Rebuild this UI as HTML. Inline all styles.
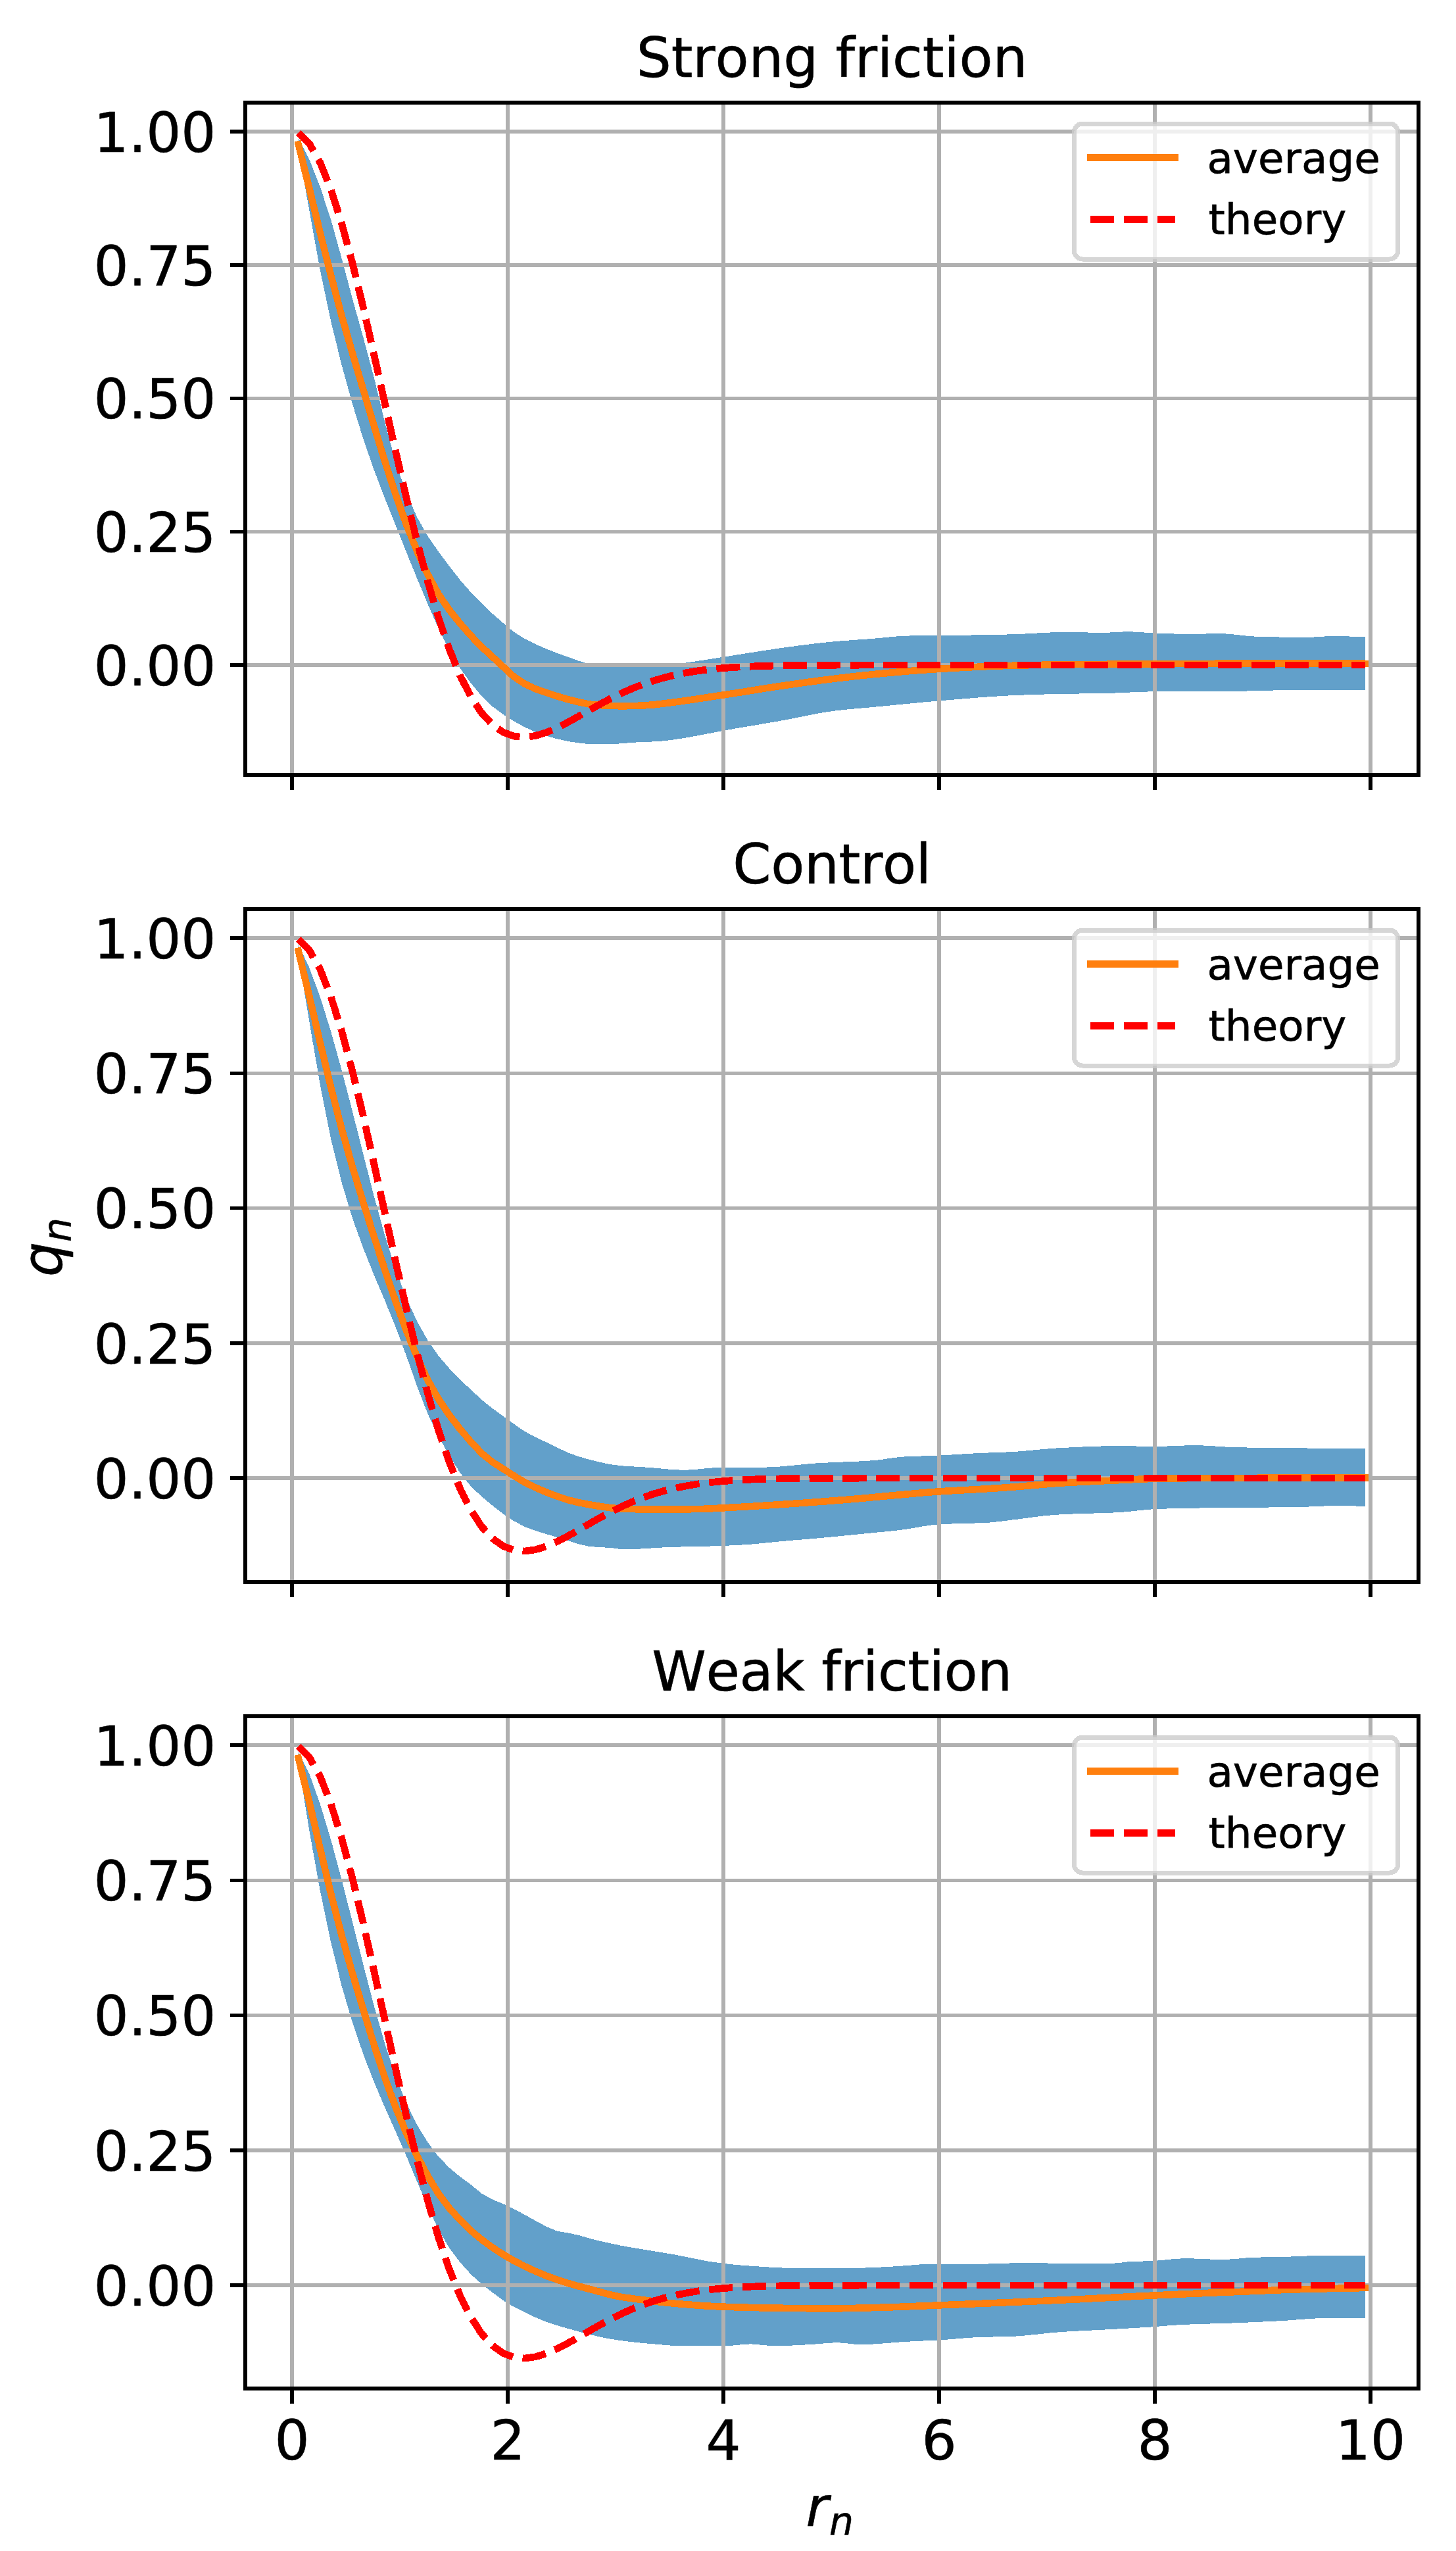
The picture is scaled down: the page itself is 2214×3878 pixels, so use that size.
<!DOCTYPE html><html><head><meta charset="utf-8"><title>Correlation plots</title>
<style>html,body{margin:0;padding:0;background:#fff}svg{display:block}text{font-family:"DejaVu Sans","Liberation Sans",sans-serif;fill:#000;stroke:#000;stroke-width:0.6px}</style></head><body>
<svg width="2214" height="3878" viewBox="0 0 2214 3878" shape-rendering="crispEdges">
<rect width="2214" height="3878" fill="#fff"/>
<g>
<clipPath id="c0"><rect x="373" y="156" width="1784" height="1022"/></clipPath>
<g clip-path="url(#c0)">
<polygon fill="#1f77b4" fill-opacity="0.7" points="453.8,209.7 470.2,242 486.6,283.6 503,333.3 519.4,392.2 535.8,453.8 552.2,512.1 568.5,573.1 584.9,640.5 601.3,701.6 617.7,749.3 634.1,786.1 650.5,815.1 666.8,838.6 683.2,860.7 699.6,881.7 716,900.4 732.4,917.4 748.8,932.9 765.2,947.2 781.5,960.8 797.9,971.1 814.3,979.3 830.7,986.4 847.1,992.9 863.5,998.6 879.9,1004.7 896.2,1009.5 912.6,1011.9 929,1013.3 945.4,1013.4 961.8,1013.4 978.2,1013.4 994.5,1013.1 1010.9,1011.6 1027.3,1009.5 1043.7,1007.4 1060.1,1005 1076.5,1002.5 1092.9,999.9 1109.2,997.3 1125.6,994.7 1142,992.1 1158.4,989.5 1174.8,987 1191.2,984.6 1207.6,982.4 1223.9,980.2 1240.3,978.2 1256.7,976.4 1273.1,974.8 1289.5,973.6 1305.9,972.4 1322.2,971.3 1338.6,969.9 1355,968.2 1371.4,966.8 1387.8,966.4 1404.2,966.3 1420.6,966.2 1436.9,966.1 1453.3,965.9 1469.7,965.6 1486.1,965.4 1502.5,965.1 1518.9,964.8 1535.3,964.4 1551.6,963.9 1568,963 1584.4,962.1 1600.8,961.3 1617.2,960.8 1633.6,960.8 1650,961.4 1666.3,961.9 1682.7,961.8 1699.1,960.8 1715.5,960.2 1731.9,960.9 1748.3,962.1 1764.6,962.8 1781,963.4 1797.4,963.8 1813.8,963.9 1830.2,963.6 1846.6,963.2 1863,963.4 1879.3,964.8 1895.7,966.7 1912.1,967.9 1928.5,968.3 1944.9,968.5 1961.3,968.7 1977.7,968.8 1994,968.8 2010.4,967.6 2026.8,967.2 2043.2,967.3 2059.6,967.7 2076,968.4 2076,1049.1 2059.6,1048.9 2043.2,1048.8 2026.8,1048.7 2010.4,1048.7 1994,1048.6 1977.7,1048.6 1961.3,1048.8 1944.9,1049.2 1928.5,1049.8 1912.1,1050.3 1895.7,1050.5 1879.3,1050.6 1863,1050.7 1846.6,1050.8 1830.2,1050.9 1813.8,1050.9 1797.4,1051 1781,1051.1 1764.6,1051.2 1748.3,1051.4 1731.9,1052 1715.5,1052.6 1699.1,1053.4 1682.7,1053.9 1666.3,1054.2 1650,1054.4 1633.6,1054.6 1617.2,1054.8 1600.8,1055.2 1584.4,1055.6 1568,1056.1 1551.6,1056.7 1535.3,1057.4 1518.9,1058.3 1502.5,1059.4 1486.1,1060.6 1469.7,1061.9 1453.3,1063.3 1436.9,1064.7 1420.6,1066.1 1404.2,1067.5 1387.8,1069.1 1371.4,1070.7 1355,1072.3 1338.6,1073.9 1322.2,1075.5 1305.9,1076.9 1289.5,1078.4 1273.1,1080.1 1256.7,1082.3 1240.3,1085.2 1223.9,1088.5 1207.6,1091.9 1191.2,1095 1174.8,1097.9 1158.4,1100.7 1142,1103.5 1125.6,1106.2 1109.2,1109.1 1092.9,1112.1 1076.5,1115.3 1060.1,1118.5 1043.7,1121.4 1027.3,1124 1010.9,1126.2 994.5,1127.4 978.2,1127.9 961.8,1128.8 945.4,1130.3 929,1131 912.6,1131.4 896.2,1131.2 879.9,1129.4 863.5,1126.9 847.1,1123.3 830.7,1118.7 814.3,1112.9 797.9,1105.4 781.5,1096.4 765.2,1086.1 748.8,1074 732.4,1058.3 716,1038.3 699.6,1015.8 683.2,988.5 666.8,955.4 650.5,918.3 634.1,879.2 617.7,838.7 601.3,797.9 584.9,756.8 568.5,713.7 552.2,666.5 535.8,613.6 519.4,554.4 503,487.6 486.6,409.7 470.2,319.1 453.8,227.6"/>
<rect x="441.25" y="156" width="5.5" height="1022" fill="#b0b0b0"/>
<rect x="769.25" y="156" width="5.5" height="1022" fill="#b0b0b0"/>
<rect x="1097.25" y="156" width="5.5" height="1022" fill="#b0b0b0"/>
<rect x="1425.25" y="156" width="5.5" height="1022" fill="#b0b0b0"/>
<rect x="1753.25" y="156" width="5.5" height="1022" fill="#b0b0b0"/>
<rect x="2081.25" y="156" width="5.5" height="1022" fill="#b0b0b0"/>
<rect x="373" y="1008.25" width="1784" height="5.5" fill="#b0b0b0"/>
<rect x="373" y="805.50" width="1784" height="5.5" fill="#b0b0b0"/>
<rect x="373" y="602.75" width="1784" height="5.5" fill="#b0b0b0"/>
<rect x="373" y="400.00" width="1784" height="5.5" fill="#b0b0b0"/>
<rect x="373" y="197.25" width="1784" height="5.5" fill="#b0b0b0"/>
<polyline fill="none" stroke="#ff7f0e" stroke-width="10.6" stroke-linecap="square" stroke-linejoin="round" points="453.8,219.5 470.2,285.7 486.6,353 503,418 519.4,479.4 535.8,536.7 552.2,591.8 568.5,646.6 584.9,700.3 601.3,750.8 617.7,796.7 634.1,837.6 650.5,873.5 666.8,903.4 683.2,927.3 699.6,947.7 716,966.4 732.4,983.3 748.8,998.5 765.2,1013.7 781.5,1028.8 797.9,1039.6 814.3,1047.3 830.7,1053 847.1,1058.3 863.5,1063.2 879.9,1067.2 896.2,1070.6 912.6,1072.1 929,1073 945.4,1073.3 961.8,1073.1 978.2,1072.5 994.5,1071.3 1010.9,1069.3 1027.3,1067.2 1043.7,1064.9 1060.1,1062.5 1076.5,1060 1092.9,1057.5 1109.2,1055 1125.6,1052.5 1142,1049.9 1158.4,1047.2 1174.8,1044.7 1191.2,1042.2 1207.6,1039.9 1223.9,1037.6 1240.3,1035.4 1256.7,1033.2 1273.1,1031.2 1289.5,1029.3 1305.9,1027.4 1322.2,1025.7 1338.6,1024.1 1355,1022.6 1371.4,1021.1 1387.8,1019.7 1404.2,1018.5 1420.6,1017.4 1436.9,1016.4 1453.3,1015.5 1469.7,1014.6 1486.1,1013.8 1502.5,1013.1 1518.9,1012.4 1535.3,1011.9 1551.6,1011.5 1568,1011.1 1584.4,1010.8 1600.8,1010.5 1617.2,1010.3 1633.6,1010.1 1650,1010 1666.3,1009.9 1682.7,1009.8 1699.1,1009.7 1715.5,1009.6 1731.9,1009.5 1748.3,1009.4 1764.6,1009.3 1781,1009.2 1797.4,1009.1 1813.8,1009 1830.2,1008.9 1846.6,1008.8 1863,1008.7 1879.3,1008.6 1895.7,1008.6 1912.1,1008.6 1928.5,1008.6 1944.9,1008.6 1961.3,1008.6 1977.7,1008.6 1994,1008.6 2010.4,1008.6 2026.8,1008.6 2043.2,1008.7 2059.6,1008.7 2076,1008.8"/>
<polyline fill="none" stroke="#ff0000" stroke-width="10.8" stroke-dasharray="36.2 14.66" stroke-linejoin="round" points="453.8,201.8 470.2,217.9 486.6,246.6 503,287.5 519.4,339.1 535.8,399.6 552.2,466.6 568.5,538.1 584.9,611.6 601.3,684.8 617.7,755.9 634.1,822.9 650.5,884.4 666.8,939.3 683.2,986.9 699.6,1026.9 716,1059.1 732.4,1083.8 748.8,1101.6 765.2,1113.2 781.5,1119.2 797.9,1120.7 814.3,1118.5 830.7,1113.5 847.1,1106.4 863.5,1098 879.9,1088.9 896.2,1079.6 912.6,1070.4 929,1061.7 945.4,1053.7 961.8,1046.5 978.2,1040.1 994.5,1034.6 1010.9,1029.9 1027.3,1025.9 1043.7,1022.7 1060.1,1020 1076.5,1017.9 1092.9,1016.2 1109.2,1014.9 1125.6,1013.9 1142,1013.1 1158.4,1012.5 1174.8,1012.1 1191.2,1011.8 1207.6,1011.6 1223.9,1011.4 1240.3,1011.3 1256.7,1011.2 1273.1,1011.1 1289.5,1011.1 1305.9,1011.1 1322.2,1011 1338.6,1011 1355,1011 1371.4,1011 1387.8,1011 1404.2,1011 1420.6,1011 1436.9,1011 1453.3,1011 1469.7,1011 1486.1,1011 1502.5,1011 1518.9,1011 1535.3,1011 1551.6,1011 1568,1011 1584.4,1011 1600.8,1011 1617.2,1011 1633.6,1011 1650,1011 1666.3,1011 1682.7,1011 1699.1,1011 1715.5,1011 1731.9,1011 1748.3,1011 1764.6,1011 1781,1011 1797.4,1011 1813.8,1011 1830.2,1011 1846.6,1011 1863,1011 1879.3,1011 1895.7,1011 1912.1,1011 1928.5,1011 1944.9,1011 1961.3,1011 1977.7,1011 1994,1011 2010.4,1011 2026.8,1011 2043.2,1011 2059.6,1011 2076,1011"/>
</g>
<rect x="441.25" y="1178" width="5.5" height="23" fill="#000"/>
<rect x="769.25" y="1178" width="5.5" height="23" fill="#000"/>
<rect x="1097.25" y="1178" width="5.5" height="23" fill="#000"/>
<rect x="1425.25" y="1178" width="5.5" height="23" fill="#000"/>
<rect x="1753.25" y="1178" width="5.5" height="23" fill="#000"/>
<rect x="2081.25" y="1178" width="5.5" height="23" fill="#000"/>
<rect x="350" y="1008.25" width="23" height="5.5" fill="#000"/>
<text x="328.5" y="1041.9" font-size="83.5" text-anchor="end">0.00</text>
<rect x="350" y="805.50" width="23" height="5.5" fill="#000"/>
<text x="328.5" y="839.1" font-size="83.5" text-anchor="end">0.25</text>
<rect x="350" y="602.75" width="23" height="5.5" fill="#000"/>
<text x="328.5" y="636.4" font-size="83.5" text-anchor="end">0.50</text>
<rect x="350" y="400.00" width="23" height="5.5" fill="#000"/>
<text x="328.5" y="433.6" font-size="83.5" text-anchor="end">0.75</text>
<rect x="350" y="197.25" width="23" height="5.5" fill="#000"/>
<text x="328.5" y="230.9" font-size="83.5" text-anchor="end">1.00</text>
<rect x="373" y="156" width="1784" height="1022" fill="none" stroke="#000" stroke-width="6"/>
<text x="1265.0" y="117.3" font-size="83.5" text-anchor="middle" style="font-kerning:none;letter-spacing:-0.13px">Strong friction</text>
<rect x="1633.3" y="188.0" width="492.5" height="206" rx="12.9" ry="12.9" fill="#fff" fill-opacity="0.8" stroke="#ccc" stroke-opacity="0.8" stroke-width="7"/>
<line x1="1658" x2="1787" y1="239.5" y2="239.5" stroke="#ff7f0e" stroke-width="10.8" stroke-linecap="square"/>
<line x1="1658" x2="1787" y1="333.5" y2="333.5" stroke="#ff0000" stroke-width="10.6" stroke-dasharray="36.2 14.9"/>
<text x="1835.4" y="263.0" font-size="64.4">average</text>
<text x="1837.6" y="356.3" font-size="64.4">theory</text>
</g>
<g>
<clipPath id="c1"><rect x="373" y="1382" width="1784" height="1023"/></clipPath>
<g clip-path="url(#c1)">
<polygon fill="#1f77b4" fill-opacity="0.7" points="453.8,1435.9 470.2,1470.8 486.6,1515 503,1567.4 519.4,1626.1 535.8,1688.9 552.2,1753.7 568.5,1817.6 584.9,1877.1 601.3,1929.2 617.7,1972.7 634.1,2008.5 650.5,2037.7 666.8,2061 683.2,2080.2 699.6,2097.3 716,2112.6 732.4,2127.8 748.8,2141.1 765.2,2152.9 781.5,2164.8 797.9,2176.1 814.3,2184.8 830.7,2192.5 847.1,2200.6 863.5,2208.2 879.9,2214.1 896.2,2218.9 912.6,2222.9 929,2226.3 945.4,2228.3 961.8,2229.4 978.2,2230.3 994.5,2231.5 1010.9,2233.1 1027.3,2234.4 1043.7,2234.7 1060.1,2233.6 1076.5,2232 1092.9,2230.8 1109.2,2230.7 1125.6,2230.7 1142,2230.7 1158.4,2230.7 1174.8,2230.3 1191.2,2229.1 1207.6,2227.5 1223.9,2225.9 1240.3,2224.5 1256.7,2223.6 1273.1,2222.9 1289.5,2222.2 1305.9,2221.5 1322.2,2220.6 1338.6,2219.2 1355,2216.6 1371.4,2214.7 1387.8,2213.9 1404.2,2213.4 1420.6,2212.8 1436.9,2212.1 1453.3,2211.1 1469.7,2210.1 1486.1,2209.2 1502.5,2208.5 1518.9,2207.9 1535.3,2207.3 1551.6,2206.3 1568,2204.8 1584.4,2203.2 1600.8,2201.8 1617.2,2200.9 1633.6,2200.1 1650,2199.3 1666.3,2198.7 1682.7,2198.3 1699.1,2198.1 1715.5,2198.2 1731.9,2198.6 1748.3,2198.9 1764.6,2198.9 1781,2198.3 1797.4,2197.6 1813.8,2197.2 1830.2,2197.5 1846.6,2198.4 1863,2199.5 1879.3,2200.2 1895.7,2200.5 1912.1,2200.6 1928.5,2200.8 1944.9,2200.9 1961.3,2201 1977.7,2201.2 1994,2201.7 2010.4,2202 2026.8,2202.1 2043.2,2202.1 2059.6,2201.9 2076,2201.7 2076,2290.5 2059.6,2289.3 2043.2,2288.7 2026.8,2288.9 2010.4,2289.6 1994,2290.4 1977.7,2290.9 1961.3,2291.2 1944.9,2291.4 1928.5,2291.5 1912.1,2291.7 1895.7,2291.8 1879.3,2291.9 1863,2292 1846.6,2292.2 1830.2,2292.4 1813.8,2292.7 1797.4,2293 1781,2293.3 1764.6,2293.8 1748.3,2294.6 1731.9,2296.2 1715.5,2298 1699.1,2299.3 1682.7,2299.9 1666.3,2300.4 1650,2300.9 1633.6,2301.4 1617.2,2302 1600.8,2303.1 1584.4,2304.7 1568,2306.8 1551.6,2309 1535.3,2311 1518.9,2313.2 1502.5,2314.7 1486.1,2315.4 1469.7,2315.8 1453.3,2316.3 1436.9,2316.8 1420.6,2317.9 1404.2,2320.2 1387.8,2323.1 1371.4,2325.6 1355,2327.5 1338.6,2329.1 1322.2,2330.7 1305.9,2332.3 1289.5,2334 1273.1,2335.6 1256.7,2337.2 1240.3,2338.7 1223.9,2340.1 1207.6,2341.4 1191.2,2342.8 1174.8,2344.4 1158.4,2346.1 1142,2347.6 1125.6,2348.7 1109.2,2349.5 1092.9,2350.1 1076.5,2350.6 1060.1,2350.9 1043.7,2351.3 1027.3,2351.7 1010.9,2352.3 994.5,2353.2 978.2,2354.3 961.8,2355.1 945.4,2355.2 929,2353 912.6,2352.1 896.2,2350.9 879.9,2347.3 863.5,2341.9 847.1,2337.1 830.7,2332 814.3,2327 797.9,2321 781.5,2312.2 765.2,2301.4 748.8,2288.7 732.4,2275 716,2259.6 699.6,2239 683.2,2212.9 666.8,2183.2 650.5,2149.4 634.1,2107.2 617.7,2060.6 601.3,2016.3 584.9,1976.4 568.5,1937.8 552.2,1897.2 535.8,1851.4 519.4,1797.1 503,1730.5 486.6,1647.9 470.2,1552.6 453.8,1453.9"/>
<rect x="441.25" y="1382" width="5.5" height="1023" fill="#b0b0b0"/>
<rect x="769.25" y="1382" width="5.5" height="1023" fill="#b0b0b0"/>
<rect x="1097.25" y="1382" width="5.5" height="1023" fill="#b0b0b0"/>
<rect x="1425.25" y="1382" width="5.5" height="1023" fill="#b0b0b0"/>
<rect x="1753.25" y="1382" width="5.5" height="1023" fill="#b0b0b0"/>
<rect x="2081.25" y="1382" width="5.5" height="1023" fill="#b0b0b0"/>
<rect x="373" y="2244.25" width="1784" height="5.5" fill="#b0b0b0"/>
<rect x="373" y="2039.00" width="1784" height="5.5" fill="#b0b0b0"/>
<rect x="373" y="1833.75" width="1784" height="5.5" fill="#b0b0b0"/>
<rect x="373" y="1628.50" width="1784" height="5.5" fill="#b0b0b0"/>
<rect x="373" y="1423.25" width="1784" height="5.5" fill="#b0b0b0"/>
<polyline fill="none" stroke="#ff7f0e" stroke-width="10.6" stroke-linecap="square" stroke-linejoin="round" points="453.8,1445.7 470.2,1513.9 486.6,1584.1 503,1652.2 519.4,1715.6 535.8,1773.4 552.2,1827.4 568.5,1879.3 584.9,1929.5 601.3,1977.5 617.7,2022.2 634.1,2062.6 650.5,2098 666.8,2127 683.2,2151.1 699.6,2172.5 716,2191.8 732.4,2209.2 748.8,2222.6 765.2,2233 781.5,2243.5 797.9,2253.4 814.3,2261.4 830.7,2268.4 847.1,2274.7 863.5,2280.1 879.9,2284.2 896.2,2287.3 912.6,2290 929,2292.3 945.4,2293.5 961.8,2294.1 978.2,2294.5 994.5,2294.6 1010.9,2294.6 1027.3,2294.5 1043.7,2294.3 1060.1,2294.1 1076.5,2293.6 1092.9,2292.7 1109.2,2291.8 1125.6,2290.9 1142,2290 1158.4,2288.9 1174.8,2287.9 1191.2,2286.8 1207.6,2285.7 1223.9,2284.6 1240.3,2283.4 1256.7,2282.2 1273.1,2280.9 1289.5,2279.6 1305.9,2278.2 1322.2,2276.7 1338.6,2275.1 1355,2273.6 1371.4,2272.1 1387.8,2270.7 1404.2,2269.2 1420.6,2267.9 1436.9,2266.8 1453.3,2265.9 1469.7,2265 1486.1,2264.1 1502.5,2263.1 1518.9,2262.1 1535.3,2260.9 1551.6,2259.7 1568,2258.2 1584.4,2256.8 1600.8,2255.4 1617.2,2254.3 1633.6,2253.4 1650,2252.6 1666.3,2251.8 1682.7,2251 1699.1,2250.3 1715.5,2249.5 1731.9,2248.7 1748.3,2248.1 1764.6,2247.8 1781,2247.5 1797.4,2247.3 1813.8,2247.1 1830.2,2247 1846.6,2247 1863,2246.9 1879.3,2246.9 1895.7,2246.8 1912.1,2246.8 1928.5,2246.7 1944.9,2246.7 1961.3,2246.7 1977.7,2246.7 1994,2246.6 2010.4,2246.6 2026.8,2246.6 2043.2,2246.6 2059.6,2246.6 2076,2246.6"/>
<polyline fill="none" stroke="#ff0000" stroke-width="10.8" stroke-dasharray="36.2 14.66" stroke-linejoin="round" points="453.8,1427.8 470.2,1444.1 486.6,1473.1 503,1514.6 519.4,1566.8 535.8,1628 552.2,1695.9 568.5,1768.2 584.9,1842.6 601.3,1916.8 617.7,1988.7 634.1,2056.6 650.5,2118.8 666.8,2174.4 683.2,2222.6 699.6,2263.1 716,2295.7 732.4,2320.7 748.8,2338.7 765.2,2350.4 781.5,2356.6 797.9,2358.1 814.3,2355.8 830.7,2350.7 847.1,2343.6 863.5,2335.1 879.9,2325.9 896.2,2316.4 912.6,2307.1 929,2298.3 945.4,2290.2 961.8,2282.9 978.2,2276.4 994.5,2270.8 1010.9,2266.1 1027.3,2262.1 1043.7,2258.8 1060.1,2256.1 1076.5,2254 1092.9,2252.3 1109.2,2250.9 1125.6,2249.9 1142,2249.1 1158.4,2248.6 1174.8,2248.1 1191.2,2247.8 1207.6,2247.6 1223.9,2247.4 1240.3,2247.3 1256.7,2247.2 1273.1,2247.1 1289.5,2247.1 1305.9,2247.1 1322.2,2247 1338.6,2247 1355,2247 1371.4,2247 1387.8,2247 1404.2,2247 1420.6,2247 1436.9,2247 1453.3,2247 1469.7,2247 1486.1,2247 1502.5,2247 1518.9,2247 1535.3,2247 1551.6,2247 1568,2247 1584.4,2247 1600.8,2247 1617.2,2247 1633.6,2247 1650,2247 1666.3,2247 1682.7,2247 1699.1,2247 1715.5,2247 1731.9,2247 1748.3,2247 1764.6,2247 1781,2247 1797.4,2247 1813.8,2247 1830.2,2247 1846.6,2247 1863,2247 1879.3,2247 1895.7,2247 1912.1,2247 1928.5,2247 1944.9,2247 1961.3,2247 1977.7,2247 1994,2247 2010.4,2247 2026.8,2247 2043.2,2247 2059.6,2247 2076,2247"/>
</g>
<rect x="441.25" y="2405" width="5.5" height="23" fill="#000"/>
<rect x="769.25" y="2405" width="5.5" height="23" fill="#000"/>
<rect x="1097.25" y="2405" width="5.5" height="23" fill="#000"/>
<rect x="1425.25" y="2405" width="5.5" height="23" fill="#000"/>
<rect x="1753.25" y="2405" width="5.5" height="23" fill="#000"/>
<rect x="2081.25" y="2405" width="5.5" height="23" fill="#000"/>
<rect x="350" y="2244.25" width="23" height="5.5" fill="#000"/>
<text x="328.5" y="2277.9" font-size="83.5" text-anchor="end">0.00</text>
<rect x="350" y="2039.00" width="23" height="5.5" fill="#000"/>
<text x="328.5" y="2072.7" font-size="83.5" text-anchor="end">0.25</text>
<rect x="350" y="1833.75" width="23" height="5.5" fill="#000"/>
<text x="328.5" y="1867.4" font-size="83.5" text-anchor="end">0.50</text>
<rect x="350" y="1628.50" width="23" height="5.5" fill="#000"/>
<text x="328.5" y="1662.2" font-size="83.5" text-anchor="end">0.75</text>
<rect x="350" y="1423.25" width="23" height="5.5" fill="#000"/>
<text x="328.5" y="1456.9" font-size="83.5" text-anchor="end">1.00</text>
<rect x="373" y="1382" width="1784" height="1023" fill="none" stroke="#000" stroke-width="6"/>
<text x="1265.0" y="1343.3" font-size="83.5" text-anchor="middle" style="font-kerning:none;letter-spacing:-0.30px">Control</text>
<rect x="1633.3" y="1414.0" width="492.5" height="206" rx="12.9" ry="12.9" fill="#fff" fill-opacity="0.8" stroke="#ccc" stroke-opacity="0.8" stroke-width="7"/>
<line x1="1658" x2="1787" y1="1465.5" y2="1465.5" stroke="#ff7f0e" stroke-width="10.8" stroke-linecap="square"/>
<line x1="1658" x2="1787" y1="1559.5" y2="1559.5" stroke="#ff0000" stroke-width="10.6" stroke-dasharray="36.2 14.9"/>
<text x="1835.4" y="1489.0" font-size="64.4">average</text>
<text x="1837.6" y="1582.3" font-size="64.4">theory</text>
</g>
<g>
<clipPath id="c2"><rect x="373" y="2609" width="1784" height="1022"/></clipPath>
<g clip-path="url(#c2)">
<polygon fill="#1f77b4" fill-opacity="0.7" points="453.8,2662.9 470.2,2696.3 486.6,2741.7 503,2796.2 519.4,2857 535.8,2921.1 552.2,2985.9 568.5,3048.4 584.9,3105.8 601.3,3155.4 617.7,3196.6 634.1,3230.2 650.5,3256.8 666.8,3278.6 683.2,3295.3 699.6,3309 716,3321 732.4,3334.5 748.8,3343.6 765.2,3350.4 781.5,3358 797.9,3366.9 814.3,3376 830.7,3384.8 847.1,3391.7 863.5,3394.3 879.9,3398 896.2,3402.7 912.6,3406.8 929,3410.5 945.4,3413.9 961.8,3416.8 978.2,3419.6 994.5,3422.3 1010.9,3425 1027.3,3427.8 1043.7,3431 1060.1,3434.4 1076.5,3437.5 1092.9,3440 1109.2,3441.9 1125.6,3443.5 1142,3444.7 1158.4,3445.8 1174.8,3446.9 1191.2,3447.6 1207.6,3447.8 1223.9,3447.9 1240.3,3448 1256.7,3448.1 1273.1,3448.1 1289.5,3448.1 1305.9,3447.8 1322.2,3447.3 1338.6,3446.6 1355,3445.7 1371.4,3444.6 1387.8,3443.4 1404.2,3442 1420.6,3441.8 1436.9,3442 1453.3,3442.2 1469.7,3442.2 1486.1,3442 1502.5,3441.5 1518.9,3441 1535.3,3440.5 1551.6,3440.2 1568,3440 1584.4,3440.3 1600.8,3440.7 1617.2,3441.1 1633.6,3441.3 1650,3441.3 1666.3,3441.2 1682.7,3441.1 1699.1,3440.3 1715.5,3438.3 1731.9,3437.7 1748.3,3437.2 1764.6,3436.2 1781,3434.5 1797.4,3433.3 1813.8,3433.4 1830.2,3434.1 1846.6,3434.8 1863,3435 1879.3,3433.9 1895.7,3432.4 1912.1,3431.6 1928.5,3431.3 1944.9,3431 1961.3,3430.6 1977.7,3429.9 1994,3429.2 2010.4,3428.7 2026.8,3428.7 2043.2,3428.7 2059.6,3428.7 2076,3428.7 2076,3523.8 2059.6,3523.8 2043.2,3523.8 2026.8,3523.8 2010.4,3524 1994,3524.8 1977.7,3526 1961.3,3527.3 1944.9,3528.3 1928.5,3529.1 1912.1,3529.9 1895.7,3530.6 1879.3,3531.3 1863,3531.8 1846.6,3532.3 1830.2,3532.8 1813.8,3533.3 1797.4,3534 1781,3535 1764.6,3536.4 1748.3,3537.6 1731.9,3538.6 1715.5,3539.5 1699.1,3540.5 1682.7,3541.4 1666.3,3542.2 1650,3543 1633.6,3543.8 1617.2,3544.8 1600.8,3546 1584.4,3547.8 1568,3549.5 1551.6,3551.1 1535.3,3552.1 1518.9,3552.4 1502.5,3552.6 1486.1,3553 1469.7,3554.1 1453.3,3555.5 1436.9,3556.8 1420.6,3557.8 1404.2,3558.5 1387.8,3559.3 1371.4,3560.2 1355,3561.5 1338.6,3562.8 1322.2,3563.9 1305.9,3564.3 1289.5,3562.6 1273.1,3561 1256.7,3562.1 1240.3,3563.5 1223.9,3564.5 1207.6,3565.4 1191.2,3566.2 1174.8,3566.4 1158.4,3564.8 1142,3563.3 1125.6,3564.4 1109.2,3566.1 1092.9,3566.4 1076.5,3566.4 1060.1,3566.4 1043.7,3566.4 1027.3,3566.1 1010.9,3564.9 994.5,3563.4 978.2,3562 961.8,3560.3 945.4,3558.3 929,3555.8 912.6,3552.6 896.2,3548.8 879.9,3544.4 863.5,3539.8 847.1,3535.1 830.7,3529.7 814.3,3522.9 797.9,3515.2 781.5,3507 765.2,3497.1 748.8,3485 732.4,3472 716,3457.4 699.6,3439.1 683.2,3417.3 666.8,3389.3 650.5,3354.3 634.1,3316.1 617.7,3277.1 601.3,3239.6 584.9,3202.8 568.5,3164.4 552.2,3122.3 535.8,3074.3 519.4,3018.2 503,2951.9 486.6,2873.3 470.2,2782 453.8,2680.9"/>
<rect x="441.25" y="2609" width="5.5" height="1022" fill="#b0b0b0"/>
<rect x="769.25" y="2609" width="5.5" height="1022" fill="#b0b0b0"/>
<rect x="1097.25" y="2609" width="5.5" height="1022" fill="#b0b0b0"/>
<rect x="1425.25" y="2609" width="5.5" height="1022" fill="#b0b0b0"/>
<rect x="1753.25" y="2609" width="5.5" height="1022" fill="#b0b0b0"/>
<rect x="2081.25" y="2609" width="5.5" height="1022" fill="#b0b0b0"/>
<rect x="373" y="3471.25" width="1784" height="5.5" fill="#b0b0b0"/>
<rect x="373" y="3266.00" width="1784" height="5.5" fill="#b0b0b0"/>
<rect x="373" y="3060.75" width="1784" height="5.5" fill="#b0b0b0"/>
<rect x="373" y="2855.50" width="1784" height="5.5" fill="#b0b0b0"/>
<rect x="373" y="2650.25" width="1784" height="5.5" fill="#b0b0b0"/>
<polyline fill="none" stroke="#ff7f0e" stroke-width="10.6" stroke-linecap="square" stroke-linejoin="round" points="453.8,2672.7 470.2,2738.8 486.6,2809.3 503,2877.9 519.4,2941.5 535.8,2999.5 552.2,3054.2 568.5,3107.7 584.9,3157.8 601.3,3202.6 617.7,3242.2 634.1,3277.1 650.5,3307.9 666.8,3334.9 683.2,3356.8 699.6,3374.9 716,3391 732.4,3404.6 748.8,3416.6 765.2,3427.3 781.5,3436.8 797.9,3445.2 814.3,3452.8 830.7,3459.6 847.1,3465.5 863.5,3470.8 879.9,3475.5 896.2,3479.8 912.6,3484.2 929,3488.6 945.4,3492 961.8,3494.3 978.2,3496.3 994.5,3498.4 1010.9,3500.3 1027.3,3501.9 1043.7,3503.2 1060.1,3504.5 1076.5,3505.6 1092.9,3506.4 1109.2,3507 1125.6,3507.5 1142,3507.9 1158.4,3508.3 1174.8,3508.6 1191.2,3508.8 1207.6,3509 1223.9,3509.2 1240.3,3509.3 1256.7,3509.4 1273.1,3509.3 1289.5,3509.1 1305.9,3508.7 1322.2,3508.3 1338.6,3507.8 1355,3507.3 1371.4,3506.7 1387.8,3506 1404.2,3505.4 1420.6,3504.7 1436.9,3504 1453.3,3503.4 1469.7,3502.7 1486.1,3502.1 1502.5,3501.4 1518.9,3500.7 1535.3,3500 1551.6,3499.3 1568,3498.6 1584.4,3497.9 1600.8,3497.1 1617.2,3496.4 1633.6,3495.6 1650,3494.8 1666.3,3493.9 1682.7,3493.1 1699.1,3492.3 1715.5,3491.4 1731.9,3490.6 1748.3,3489.8 1764.6,3489 1781,3488.3 1797.4,3487.5 1813.8,3486.8 1830.2,3486.1 1846.6,3485.4 1863,3484.7 1879.3,3484.1 1895.7,3483.4 1912.1,3482.7 1928.5,3482 1944.9,3481.3 1961.3,3480.7 1977.7,3480.2 1994,3479.8 2010.4,3479.4 2026.8,3479 2043.2,3478.6 2059.6,3478.3 2076,3478.1"/>
<polyline fill="none" stroke="#ff0000" stroke-width="10.8" stroke-dasharray="36.2 14.66" stroke-linejoin="round" points="453.8,2654.8 470.2,2671.1 486.6,2700.1 503,2741.6 519.4,2793.8 535.8,2855 552.2,2922.9 568.5,2995.2 584.9,3069.6 601.3,3143.8 617.7,3215.7 634.1,3283.6 650.5,3345.8 666.8,3401.4 683.2,3449.6 699.6,3490.1 716,3522.7 732.4,3547.7 748.8,3565.7 765.2,3577.4 781.5,3583.6 797.9,3585.1 814.3,3582.8 830.7,3577.7 847.1,3570.6 863.5,3562.1 879.9,3552.9 896.2,3543.4 912.6,3534.1 929,3525.3 945.4,3517.2 961.8,3509.9 978.2,3503.4 994.5,3497.8 1010.9,3493.1 1027.3,3489.1 1043.7,3485.8 1060.1,3483.1 1076.5,3481 1092.9,3479.3 1109.2,3477.9 1125.6,3476.9 1142,3476.1 1158.4,3475.6 1174.8,3475.1 1191.2,3474.8 1207.6,3474.6 1223.9,3474.4 1240.3,3474.3 1256.7,3474.2 1273.1,3474.1 1289.5,3474.1 1305.9,3474.1 1322.2,3474 1338.6,3474 1355,3474 1371.4,3474 1387.8,3474 1404.2,3474 1420.6,3474 1436.9,3474 1453.3,3474 1469.7,3474 1486.1,3474 1502.5,3474 1518.9,3474 1535.3,3474 1551.6,3474 1568,3474 1584.4,3474 1600.8,3474 1617.2,3474 1633.6,3474 1650,3474 1666.3,3474 1682.7,3474 1699.1,3474 1715.5,3474 1731.9,3474 1748.3,3474 1764.6,3474 1781,3474 1797.4,3474 1813.8,3474 1830.2,3474 1846.6,3474 1863,3474 1879.3,3474 1895.7,3474 1912.1,3474 1928.5,3474 1944.9,3474 1961.3,3474 1977.7,3474 1994,3474 2010.4,3474 2026.8,3474 2043.2,3474 2059.6,3474 2076,3474"/>
</g>
<rect x="441.25" y="3631" width="5.5" height="23" fill="#000"/>
<rect x="769.25" y="3631" width="5.5" height="23" fill="#000"/>
<rect x="1097.25" y="3631" width="5.5" height="23" fill="#000"/>
<rect x="1425.25" y="3631" width="5.5" height="23" fill="#000"/>
<rect x="1753.25" y="3631" width="5.5" height="23" fill="#000"/>
<rect x="2081.25" y="3631" width="5.5" height="23" fill="#000"/>
<rect x="350" y="3471.25" width="23" height="5.5" fill="#000"/>
<text x="328.5" y="3504.9" font-size="83.5" text-anchor="end">0.00</text>
<rect x="350" y="3266.00" width="23" height="5.5" fill="#000"/>
<text x="328.5" y="3299.7" font-size="83.5" text-anchor="end">0.25</text>
<rect x="350" y="3060.75" width="23" height="5.5" fill="#000"/>
<text x="328.5" y="3094.4" font-size="83.5" text-anchor="end">0.50</text>
<rect x="350" y="2855.50" width="23" height="5.5" fill="#000"/>
<text x="328.5" y="2889.2" font-size="83.5" text-anchor="end">0.75</text>
<rect x="350" y="2650.25" width="23" height="5.5" fill="#000"/>
<text x="328.5" y="2683.9" font-size="83.5" text-anchor="end">1.00</text>
<rect x="373" y="2609" width="1784" height="1022" fill="none" stroke="#000" stroke-width="6"/>
<text x="1265.0" y="2570.3" font-size="83.5" text-anchor="middle" style="font-kerning:none;letter-spacing:-0.41px">Weak friction</text>
<rect x="1633.3" y="2641.0" width="492.5" height="206" rx="12.9" ry="12.9" fill="#fff" fill-opacity="0.8" stroke="#ccc" stroke-opacity="0.8" stroke-width="7"/>
<line x1="1658" x2="1787" y1="2692.5" y2="2692.5" stroke="#ff7f0e" stroke-width="10.8" stroke-linecap="square"/>
<line x1="1658" x2="1787" y1="2786.5" y2="2786.5" stroke="#ff0000" stroke-width="10.6" stroke-dasharray="36.2 14.9"/>
<text x="1835.4" y="2716.0" font-size="64.4">average</text>
<text x="1837.6" y="2809.3" font-size="64.4">theory</text>
</g>
<text x="444.0" y="3739" font-size="83.5" text-anchor="middle">0</text>
<text x="772.0" y="3739" font-size="83.5" text-anchor="middle">2</text>
<text x="1100.0" y="3739" font-size="83.5" text-anchor="middle">4</text>
<text x="1428.0" y="3739" font-size="83.5" text-anchor="middle">6</text>
<text x="1756.0" y="3739" font-size="83.5" text-anchor="middle">8</text>
<text x="2084.0" y="3739" font-size="83.5" text-anchor="middle">10</text>
<text x="1225.5" y="3840" font-size="83.5" font-style="italic">r</text>
<text x="1261" y="3853" font-size="58.4" font-style="italic">n</text>
<text transform="translate(94,1941) rotate(-90)" font-size="83.5" font-style="italic">q</text>
<text transform="translate(107,1888) rotate(-90)" font-size="58.4" font-style="italic">n</text>
</svg></body></html>
